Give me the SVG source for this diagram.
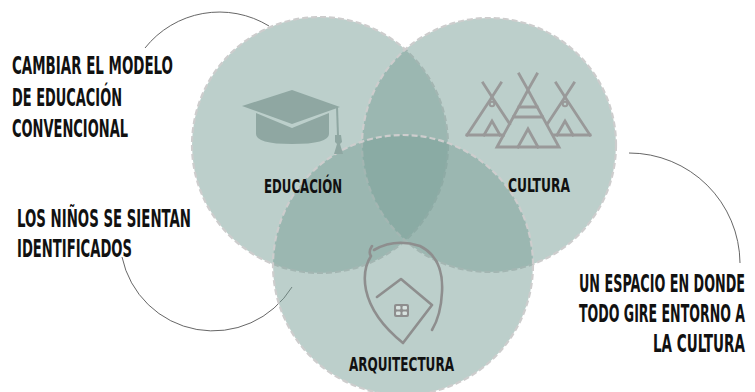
<svg xmlns="http://www.w3.org/2000/svg" width="755" height="392" viewBox="0 0 755 392">
<style>
.c{fill:rgb(121,159,151);fill-opacity:0.5;stroke:#cdcdcd;stroke-width:2.2;stroke-dasharray:6 3}
.t{font-family:"Liberation Sans Narrow","DejaVu Sans Condensed","Liberation Sans",sans-serif;font-weight:bold;fill:#111}
.m{font-size:24.5px}
.l{font-size:20px}
.e{text-anchor:end}
.conn{fill:none;stroke:#555;stroke-width:0.9}
.tp{fill:none;stroke:#999;stroke-width:2.8;stroke-linecap:square;stroke-linejoin:miter}
.cap{fill:#8fa7a2}
.hs{fill:none;stroke:#8e8e8e;stroke-width:2.6;stroke-linecap:round;stroke-linejoin:round}
</style>
<rect width="755" height="392" fill="#fff"/>
<g id="connectors">
<path class="conn" d="M145,48 A95,95 0 0 1 269,26"/>
<path class="conn" d="M122,257 A93,93 0 0 0 292,287"/>
<path class="conn" d="M629,153 A111,111 0 0 1 740,263"/>
</g>
<g id="educacion">
<circle class="c" cx="320" cy="145" r="128"/>
</g>
<g id="cultura">
<circle class="c" cx="489" cy="145" r="127"/>
</g>
<g id="arquitectura">
<circle class="c" cx="403" cy="265" r="130"/>
</g>
<g id="icon-cap">
<path class="cap" d="M242,106 L292,90 L340,107 L292,124 Z"/>
<path class="cap" d="M256,113 L292,128 L329,113 L329,134 Q329,144 292,144 Q256,144 256,134 Z"/>
<path d="M337,107 L338,136" stroke="#8fa7a2" stroke-width="2" fill="none"/>
<path class="cap" d="M335,135 L341,135 L342,142 L340,144 L343,154 L334,154 L337,144 L335,142 Z"/>
</g>
<g id="icon-teepees">
<path class="tp" d="M467,135 L492,97 L509.6,123.8"/>
<path class="tp" d="M467,135 L503.5,135"/>
<path class="tp" d="M483,83 L492,97 L501,83"/>
<circle cx="492" cy="104" r="2.3" fill="none" stroke="#999" stroke-width="2"/>
<path class="tp" d="M484,135 L492,121 L500,135"/>
<path class="tp" d="M590,135 L565,97 L547.4,123.8"/>
<path class="tp" d="M590,135 L553.5,135"/>
<path class="tp" d="M574,83 L565,97 L556,83"/>
<circle cx="565" cy="104" r="2.3" fill="none" stroke="#999" stroke-width="2"/>
<path class="tp" d="M557,135 L565,121 L573,135"/>
<path class="tp" d="M497,147 L528,90 L559,147 Z"/>
<path class="tp" d="M519,74 L528,90 L537,74"/>
<path class="tp" d="M519,107 L537,107 M513.5,117 L542.5,117"/>
<path class="tp" d="M518,147 L528,129 L538,147"/>
</g>
<g id="icon-house">
<path class="hs" d="M372,246 Q368,252 371,256 Q362,270 366,290 Q372,318 403,343 L432,305 L401,279 L377,297"/>
<path class="hs" d="M374,250 Q395,238 420,246 Q444,258 442,292 Q441,315 432,330"/>
<g fill="#8e8e8e">
<rect x="394" y="304" width="15" height="13" rx="2"/>
</g>
<g fill="#d8e3e0">
<rect x="396" y="306" width="4.5" height="3.5" rx="1"/>
<rect x="402.5" y="306" width="4.5" height="3.5" rx="1"/>
<rect x="396" y="311.5" width="4.5" height="3.5" rx="1"/>
<rect x="402.5" y="311.5" width="4.5" height="3.5" rx="1"/>
</g>
</g>
<g id="labels">
<text class="t l" x="264" y="193" textLength="78" lengthAdjust="spacingAndGlyphs">EDUCACIÓN</text>
<text class="t l" x="508" y="192" textLength="62" lengthAdjust="spacingAndGlyphs">CULTURA</text>
<text class="t l" x="349" y="371" textLength="105" lengthAdjust="spacingAndGlyphs">ARQUITECTURA</text>
</g>
<g id="notes">
<text class="t m" x="12" y="74" textLength="161" lengthAdjust="spacingAndGlyphs">CAMBIAR EL MODELO</text>
<text class="t m" x="12" y="106" textLength="110" lengthAdjust="spacingAndGlyphs">DE EDUCACIÓN</text>
<text class="t m" x="12" y="137" textLength="116" lengthAdjust="spacingAndGlyphs">CONVENCIONAL</text>
<text class="t m" x="17" y="227" textLength="174" lengthAdjust="spacingAndGlyphs">LOS NIÑOS SE SIENTAN</text>
<text class="t m" x="17" y="257" textLength="115" lengthAdjust="spacingAndGlyphs">IDENTIFICADOS</text>
<text class="t m e" x="745" y="292" textLength="166" lengthAdjust="spacingAndGlyphs">UN ESPACIO EN DONDE</text>
<text class="t m e" x="745" y="322" textLength="166" lengthAdjust="spacingAndGlyphs">TODO GIRE ENTORNO A</text>
<text class="t m e" x="745" y="352" textLength="92" lengthAdjust="spacingAndGlyphs">LA CULTURA</text>
</g>
</svg>
